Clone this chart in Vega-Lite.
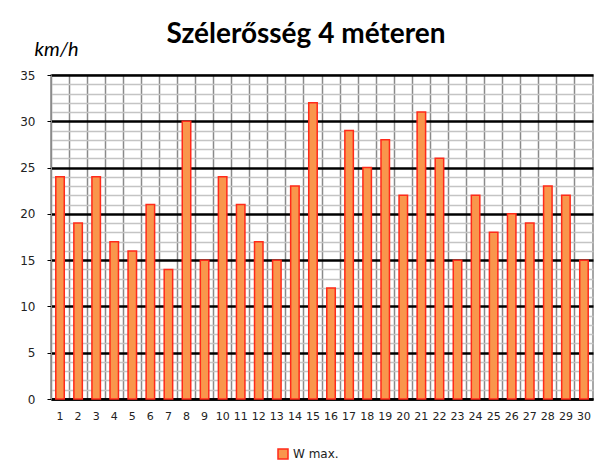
{
  "$schema": "https://vega.github.io/schema/vega-lite/v6.json",
  "width": 542,
  "height": 324,
  "autosize": {"type": "none"},
  "padding": {"left": 51, "top": 75, "right": 15, "bottom": 77},
  "background": "white",
  "title": {"text": "Szélerősség 4 méteren", "font": "Lato", "fontSize": 28, "fontWeight": "bold", "color": "black", "anchor": "middle", "baseline": "alphabetic", "dx": -16, "dy": 58, "offset": 26, "frame": "group"},
  "data": {"values": [
    {"day": 1, "wmax": 24}, {"day": 2, "wmax": 19}, {"day": 3, "wmax": 24}, {"day": 4, "wmax": 17},
    {"day": 5, "wmax": 16}, {"day": 6, "wmax": 21}, {"day": 7, "wmax": 14}, {"day": 8, "wmax": 30},
    {"day": 9, "wmax": 15}, {"day": 10, "wmax": 24}, {"day": 11, "wmax": 21}, {"day": 12, "wmax": 17},
    {"day": 13, "wmax": 15}, {"day": 14, "wmax": 23}, {"day": 15, "wmax": 32}, {"day": 16, "wmax": 12},
    {"day": 17, "wmax": 29}, {"day": 18, "wmax": 25}, {"day": 19, "wmax": 28}, {"day": 20, "wmax": 22},
    {"day": 21, "wmax": 31}, {"day": 22, "wmax": 26}, {"day": 23, "wmax": 15}, {"day": 24, "wmax": 22},
    {"day": 25, "wmax": 18}, {"day": 26, "wmax": 20}, {"day": 27, "wmax": 19}, {"day": 28, "wmax": 23},
    {"day": 29, "wmax": 22}, {"day": 30, "wmax": 15}
  ]},
  "mark": {"type": "bar", "width": {"band": 0.47}, "stroke": "#FF2A1A", "strokeWidth": 1.5},
  "encoding": {
    "x": {
      "field": "day", "type": "ordinal",
      "scale": {"paddingInner": 0, "paddingOuter": 0},
      "axis": {"title": null, "bandPosition": 0, "grid": true, "gridColor": "#8a8a8a", "gridWidth": 1.5, "ticks": false, "domainColor": "black", "domainWidth": 2.5, "labelAngle": 0, "labelFont": "DejaVu Sans", "labelFontSize": 11, "labelColor": "#222", "labelPadding": 11}
    },
    "y": {
      "field": "wmax", "type": "quantitative",
      "scale": {"domain": [0, 35], "nice": false},
      "axis": {
        "title": "km/h", "titleAngle": 0, "titleX": 5, "titleY": -20, "titleAlign": "center", "titleBaseline": "alphabetic",
        "titleFont": "Lato", "titleFontStyle": "italic", "titleFontWeight": "normal", "titleFontSize": 20, "titleColor": "black",
        "values": [0,1,2,3,4,5,6,7,8,9,10,11,12,13,14,15,16,17,18,19,20,21,22,23,24,25,26,27,28,29,30,31,32,33,34,35],
        "labelExpr": "datum.value % 5 === 0 ? datum.label : ''",
        "labelOverlap": false,
        "grid": true,
        "gridColor": {"condition": {"test": "datum.value % 5 === 0", "value": "black"}, "value": "#c4c4c4"},
        "gridWidth": {"condition": {"test": "datum.value % 5 === 0", "value": 2.5}, "value": 1.5},
        "tickColor": {"condition": {"test": "datum.value % 5 === 0", "value": "black"}, "value": "transparent"},
        "tickSize": 4,
        "domainColor": "#8a8a8a",
        "labelFont": "DejaVu Sans", "labelFontSize": 12, "labelColor": "#222", "labelPadding": 12
      }
    },
    "color": {
      "datum": "W max.",
      "scale": {"range": ["#F9964C"]},
      "legend": {"orient": "none", "legendX": 226, "legendY": 373, "title": null, "symbolType": "square", "symbolSize": 100, "symbolStrokeColor": "#FF2A1A", "symbolStrokeWidth": 1.5, "labelFont": "DejaVu Sans", "labelFontSize": 12, "labelColor": "#222"}
    }
  },
  "config": {"view": {"stroke": "#8a8a8a", "strokeWidth": 1.5}}
}
